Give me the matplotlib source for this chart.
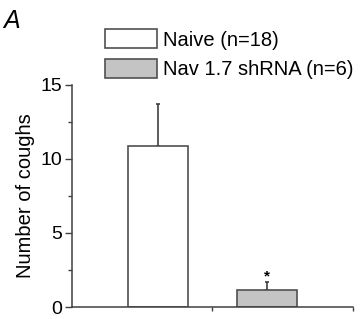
import numpy as np
import matplotlib
matplotlib.use('Agg')
import matplotlib.pyplot as plt

plt.rcParams['font.family'] = ['Liberation Sans', 'DejaVu Sans']

groups = ['Naive (n=18)', 'Nav 1.7 shRNA (n=6)']
means = [10.9, 1.17]
sems = [2.8, 0.54]
colors = ['white', '#c4c4c4']

fig = plt.figure(figsize=(3.6, 3.19), dpi=100)
ax = fig.add_axes([0.2, 0.0376, 0.78, 0.696])

xpos = np.arange(len(groups))
bars = ax.bar(xpos, means, width=0.55, color=colors, edgecolor='#505050',
              linewidth=1.2, label=groups, zorder=2)
ax.errorbar(xpos, means, yerr=[np.zeros(len(sems)), sems], fmt='none',
            ecolor='#404040', elinewidth=1.2, capsize=1.5, capthick=1.2, zorder=1)
ax.text(xpos[1], means[1] + sems[1] + 0.05, '*', ha='center', va='baseline',
        fontsize=11, fontweight='bold')

ax.set_xlim(-0.79, 1.79)
ax.set_ylim(0, 15)
ax.set_yticks([0, 5, 10, 15])
ax.set_yticks([2.5, 7.5, 12.5], minor=True)
ax.set_xticks([0.5, 1.79])
ax.set_xticklabels([])
ax.tick_params(axis='x', length=3, width=1, color='#404040')
ax.tick_params(axis='y', which='major', length=5, width=1, color='#404040', labelsize=14, pad=2)
ax.tick_params(axis='y', which='minor', length=3, width=1, color='#404040')
for s in ['top', 'right']:
    ax.spines[s].set_visible(False)
for s in ['left', 'bottom']:
    ax.spines[s].set_color('#404040')
    ax.spines[s].set_linewidth(1.1)
ax.set_ylabel('Number of coughs', fontsize=14.5, labelpad=4)

leg = fig.legend(handles=list(bars), labels=groups, loc='upper left',
                 bbox_to_anchor=(0.2917, 0.908), frameon=False, fontsize=14.5,
                 handlelength=2.6, handleheight=1.05, handletextpad=0.26,
                 labelspacing=0.48, borderpad=0, borderaxespad=0)

fig.text(0.008, 0.972, 'A', fontsize=18, style='italic', va='top', ha='left')

fig.savefig('out.png', dpi=100)
